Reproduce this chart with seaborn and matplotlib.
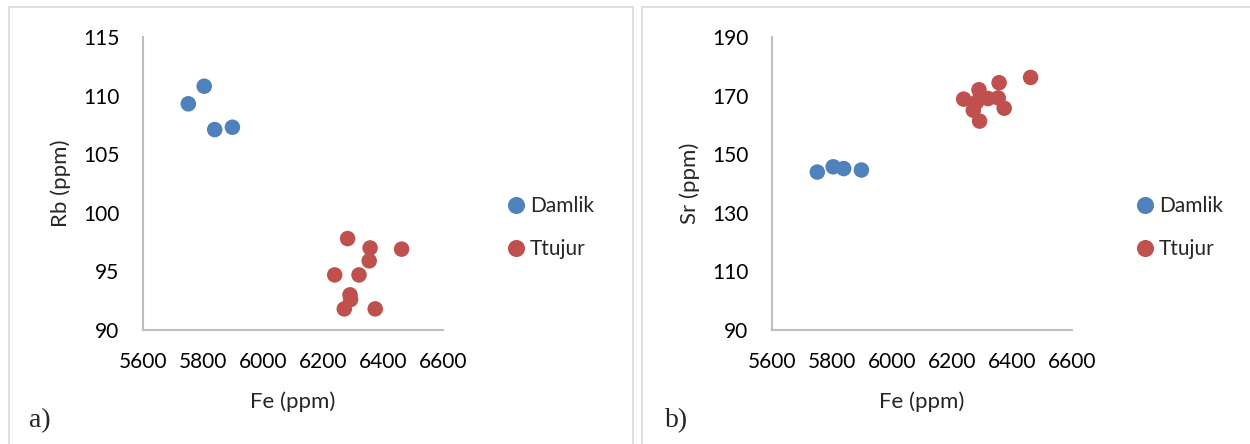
import numpy as np
import pandas as pd
import matplotlib
matplotlib.use("Agg")
import matplotlib.pyplot as plt
import seaborn as sns
from matplotlib.patches import Rectangle

# data
groups = ["Damlik"] * 4 + ["Ttujur"] * 10
fe = [5751, 5804, 5839, 5898,
      6462, 6357, 6374, 6354, 6239, 6271, 6292, 6290, 6282, 6320]
rb = [109.3, 110.8, 107.1, 107.3,
      96.9, 97.0, 91.8, 95.9, 94.7, 91.8, 92.6, 93.0, 97.8, 94.7]
sr = [143.9, 145.7, 145.1, 144.6,
      176.2, 174.4, 165.7, 169.2, 168.8, 165.0, 161.3, 172.0, 167.8, 169.0]

x_ticks = [5600, 5800, 6000, 6200, 6400, 6600]
rb_ticks = [90, 95, 100, 105, 110, 115]
sr_ticks = [90, 110, 130, 150, 170, 190]

df = pd.DataFrame({"group": groups, "Fe": fe, "Rb": rb, "Sr": sr})
palette = {"Damlik": "#4F81BD", "Ttujur": "#C0504D"}

sns.set_style("white")
plt.rcParams["font.family"] = ["Lato", "DejaVu Sans"]

fig = plt.figure(figsize=(12.5, 4.44), dpi=100)

# panel frames
fig.patches.append(Rectangle((9 / 1250, -0.05), 624 / 1250, 1.05 - 7 / 444,
                             transform=fig.transFigure, fill=False,
                             edgecolor="#d9d9d9", lw=1.2))
fig.patches.append(Rectangle((642 / 1250, -0.05), 620 / 1250, 1.05 - 7 / 444,
                             transform=fig.transFigure, fill=False,
                             edgecolor="#d9d9d9", lw=1.2))

panels = [
    (143, "Rb", "Rb (ppm)", rb_ticks, "a)", 29),
    (772, "Sr", "Sr (ppm)", sr_ticks, "b)", 665),
]

for left_px, col, ylab, yt, tag, tag_x in panels:
    ax = fig.add_axes([left_px / 1250, 1 - 330 / 444, 300 / 1250, 293 / 444])
    sns.scatterplot(data=df, x="Fe", y=col, hue="group", palette=palette,
                    s=125, edgecolor="none", ax=ax, clip_on=False)
    ax.set_xlim(x_ticks[0], x_ticks[-1])
    ax.set_ylim(yt[0], yt[-1])
    ax.set_xticks(x_ticks)
    ax.set_yticks(yt)
    ax.tick_params(length=0, labelsize=15, pad=16, colors="black")
    ax.tick_params(axis="y", pad=17)
    for side in ["top", "right"]:
        ax.spines[side].set_visible(False)
    for side in ["left", "bottom"]:
        ax.spines[side].set_color("#bfbfbf")
        ax.spines[side].set_linewidth(1.5)
    ax.set_xlabel("Fe (ppm)", fontsize=16, labelpad=14)
    ax.set_ylabel(ylab, fontsize=16, labelpad=9)
    ax.set_facecolor("white")
    handles, labels = ax.get_legend_handles_labels()
    ax.legend(handles, labels, loc="center left", bbox_to_anchor=(1.175, 0.35),
              frameon=False, fontsize=15, handlelength=1.0, handletextpad=0.15,
              labelspacing=1.1, borderpad=0, markerscale=1.1)
    fig.text(tag_x / 1250, 1 - 421 / 444, tag, fontsize=20,
             family="Liberation Serif", va="center")

fig.savefig("out.png", dpi=100, facecolor="white")
